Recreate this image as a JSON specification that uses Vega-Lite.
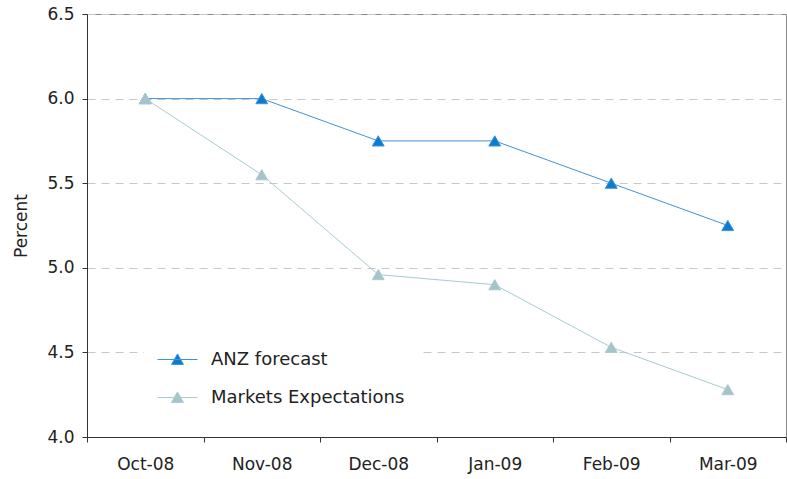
{
  "$schema": "https://vega.github.io/schema/vega-lite/v6.json",
  "width": 699,
  "height": 423,
  "autosize": {"type": "none"},
  "padding": {"left": 87, "top": 14, "right": 1, "bottom": 42},
  "background": "white",
  "data": {
    "values": [
      {"month": "Oct-08", "series": "ANZ forecast", "value": 6.0},
      {"month": "Nov-08", "series": "ANZ forecast", "value": 6.0},
      {"month": "Dec-08", "series": "ANZ forecast", "value": 5.75},
      {"month": "Jan-09", "series": "ANZ forecast", "value": 5.75},
      {"month": "Feb-09", "series": "ANZ forecast", "value": 5.5},
      {"month": "Mar-09", "series": "ANZ forecast", "value": 5.25},
      {"month": "Oct-08", "series": "Markets Expectations", "value": 6.0},
      {"month": "Nov-08", "series": "Markets Expectations", "value": 5.55},
      {"month": "Dec-08", "series": "Markets Expectations", "value": 4.96},
      {"month": "Jan-09", "series": "Markets Expectations", "value": 4.9},
      {"month": "Feb-09", "series": "Markets Expectations", "value": 4.53},
      {"month": "Mar-09", "series": "Markets Expectations", "value": 4.28}
    ]
  },
  "encoding": {
    "x": {
      "field": "month",
      "type": "ordinal",
      "sort": ["Oct-08", "Nov-08", "Dec-08", "Jan-09", "Feb-09", "Mar-09"],
      "scale": {"type": "band", "paddingInner": 0, "paddingOuter": 0},
      "axis": {
        "title": null,
        "labelAngle": 0,
        "tickBand": "extent",
        "tickSize": 5,
        "labelPadding": 14,
        "domainColor": "#333333",
        "tickColor": "#333333",
        "grid": false
      }
    },
    "y": {
      "field": "value",
      "type": "quantitative",
      "scale": {"domain": [4, 6.5], "nice": false, "zero": false},
      "axis": {
        "title": "Percent",
        "values": [4, 4.5, 5, 5.5, 6, 6.5],
        "format": ".1f",
        "tickSize": 5,
        "labelPadding": 8,
        "titlePadding": 16,
        "domainColor": "#333333",
        "tickColor": "#333333",
        "grid": true,
        "gridColor": "#c8c8c8",
        "gridDash": [8, 6],
        "gridWidth": 1
      }
    }
  },
  "layer": [
    {
      "mark": {"type": "line", "strokeWidth": 1},
      "encoding": {
        "stroke": {
          "field": "series",
          "type": "nominal",
          "scale": {"domain": ["ANZ forecast", "Markets Expectations"], "range": ["#3d93da", "#a8cbd2"]}
        }
      }
    },
    {
      "mark": {"type": "point", "shape": "triangle-up", "size": 140, "filled": true, "strokeWidth": 1, "opacity": 1},
      "encoding": {
        "fill": {
          "field": "series",
          "type": "nominal",
          "scale": {"domain": ["ANZ forecast", "Markets Expectations"], "range": ["#0a7ccf", "#a4c4ca"]}
        },
        "stroke": {
          "field": "series",
          "type": "nominal"
        }
      }
    }
  ],
  "config": {
    "view": {"stroke": "#888888", "strokeWidth": 1},
    "axis": {
      "labelFont": "DejaVu Sans",
      "labelFontSize": 17,
      "labelColor": "#222222",
      "titleFont": "DejaVu Sans",
      "titleFontSize": 17,
      "titleFontWeight": "normal",
      "titleColor": "#222222"
    },
    "legend": {
      "title": null,
      "orient": "none",
      "legendX": 57,
      "legendY": 312,
      "padding": 18,
      "fillColor": "white",
      "symbolType": "M-1.33,0H1.33M-0.4,0.33L0,-0.37L0.4,0.33Z",
      "symbolSize": 900,
      "symbolStrokeWidth": 1,
      "symbolOpacity": 1,
      "rowPadding": 13,
      "labelOffset": 18,
      "labelFontSize": 18,
      "labelFont": "DejaVu Sans",
      "labelColor": "#222222",
      "labelLimit": 400
    }
  }
}
